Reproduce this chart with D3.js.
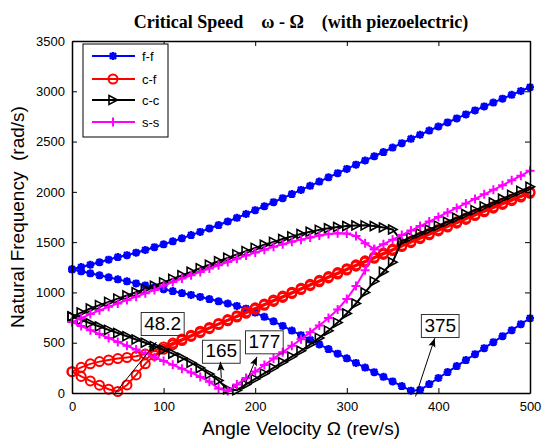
<!DOCTYPE html>
<html>
<head>
<meta charset="utf-8">
<script src="https://cdn.jsdelivr.net/npm/d3@7/dist/d3.min.js"></script>
<style>
    body { margin: 0; background: #fff; }
    text { font-family: Arial, "Liberation Sans", sans-serif; }
</style>
</head>
<body>
<div id="chart"></div>
<script>
// angle velocity grid (rev/s)
const omega = [0, 10, 20, 30, 40, 50, 60, 70, 80, 90, 100, 110, 120, 130, 140, 150, 160, 170, 180, 190,
    200, 210, 220, 230, 240, 250, 260, 270, 280, 290, 300, 310, 320, 330, 340, 350, 360, 370, 380, 390,
    400, 410, 420, 430, 440, 450, 460, 470, 480, 490, 500];

// f-f
const ffUpper = [1230, 1252, 1275, 1300, 1326, 1352, 1370, 1395, 1422, 1450, 1478, 1508, 1538, 1570, 1602, 1636, 1670, 1705, 1742, 1780,
    1818, 1857, 1897, 1937, 1978, 2019, 2060, 2102, 2144, 2186, 2228, 2270, 2312, 2354, 2396, 2440, 2484, 2527, 2568, 2609,
    2650, 2690, 2730, 2770, 2810, 2849, 2888, 2927, 2965, 3003, 3040];
const ffLower = [1230, 1210, 1190, 1170, 1150, 1130, 1110, 1090, 1070, 1051, 1032, 1013, 994, 975, 955, 934, 912, 890, 866, 838,
    800, 757, 713, 667, 621, 575, 529, 483, 437, 391, 345, 299, 253, 207, 161, 115, 69, 23, 30, 89,
    149, 208, 268, 327, 386, 446, 505, 565, 624, 684, 743];

// c-f
const cfUpper = [212, 255, 290, 312, 328, 342, 353, 366, 387, 420, 458, 497, 536, 575, 614, 652, 691, 730, 769, 808,
    847, 886, 925, 964, 1003, 1042, 1081, 1120, 1158, 1197, 1236, 1275, 1314, 1353, 1392, 1431, 1470, 1509, 1548, 1587,
    1626, 1664, 1702, 1740, 1778, 1815, 1852, 1889, 1926, 1963, 2000];
const cfLower = [212, 165, 120, 78, 38, 15, 80, 180, 290, 375, 435, 480, 522, 562, 600, 640, 680, 718, 755, 793,
    832, 872, 911, 950, 989, 1028, 1067, 1106, 1144, 1183, 1222, 1261, 1300, 1339, 1378, 1417, 1456, 1495, 1534, 1573,
    1612, 1650, 1688, 1726, 1764, 1801, 1838, 1875, 1912, 1949, 1986];

// c-c
const ccUpper = [760, 800, 840, 874, 906, 938, 970, 1002, 1034, 1066, 1100, 1135, 1170, 1205, 1240, 1275, 1310, 1344, 1378, 1411,
    1443, 1474, 1503, 1531, 1557, 1581, 1603, 1622, 1638, 1651, 1660, 1666, 1667, 1660, 1646, 1626, 1510, 1550, 1588, 1626,
    1664, 1703, 1742, 1780, 1818, 1856, 1894, 1932, 1970, 2010, 2050];
const ccLower = [760, 727, 694, 661, 628, 596, 564, 532, 500, 466, 430, 392, 350, 302, 248, 188, 125, 38, 28, 85,
    140, 195, 250, 306, 362, 420, 482, 548, 620, 700, 790, 890, 1000, 1110, 1205, 1300, 1510];

// s-s
const ssUpper = [705, 745, 785, 822, 857, 891, 925, 958, 991, 1024, 1070, 1104, 1138, 1171, 1204, 1237, 1270, 1302, 1334, 1366,
    1396, 1425, 1453, 1479, 1503, 1525, 1546, 1565, 1580, 1588, 1585, 1560, 1490, 1430, 1480, 1525, 1570, 1615, 1660, 1705,
    1750, 1795, 1840, 1885, 1930, 1975, 2020, 2065, 2115, 2160, 2210];
const ssLower = [705, 665, 625, 586, 547, 508, 470, 432, 394, 356, 318, 280, 242, 204, 160, 112, 45, 20, 85, 150,
    214, 278, 342, 406, 470, 535, 603, 672, 745, 830, 935, 1065, 1220, 1430];

const legendLabels = ['f-f', 'c-f', 'c-c', 's-s'];
const xTicks = [0, 100, 200, 300, 400, 500];
const yTicks = [0, 500, 1000, 1500, 2000, 2500, 3000, 3500];

// critical speed call-outs: label, arrow tail, arrow head, box centre (data units)
const noteLabels = ['48.2', '165', '177', '375'];
const noteTail = [[46, -15], [163, 150], [187, 45], [375, -35]];
const noteHead = [[92, 505], [162, 310], [202, 360], [396, 545]];
const noteBox = [[99, 696], [163, 420], [210, 514], [402, 676]];

let width = 542,
    height = 441,
    margin = { left: 72, right: 12, top: 41, bottom: 48 },
    innerW = width - margin.left - margin.right,
    innerH = height - margin.top - margin.bottom;

let svg = d3.select('#chart')
    .append('svg')
        .attr('width', width)
        .attr('height', height);

svg.append('defs')
    .append('marker')
        .attr('id', 'arrow')
        .attr('viewBox', '0 -5 10 10')
        .attr('refX', 10)
        .attr('refY', 0)
        .attr('markerUnits', 'userSpaceOnUse')
        .attr('markerWidth', 11)
        .attr('markerHeight', 9)
        .attr('orient', 'auto')
    .append('path')
        .attr('d', 'M0,-4L10,0L0,4L2,0Z')
        .attr('fill', '#000');

let x = d3.scaleLinear().domain([0, 500]).range([0, innerW]);
let y = d3.scaleLinear().domain([0, 3500]).range([innerH, 0]);

let rootG = svg.append('g')
    .attr('transform', 'translate(' + margin.left + ',' + margin.top + ')');

// marker shapes
let markerPath = {
    star: 'M0,-4L0,4M-4,0L4,0M-3,-3L3,3M-3,3L3,-3',
    circle: d3.symbol().type(d3.symbolCircle).size(Math.PI * 4.5 * 4.5)(),
    tri: 'M-4,-4.5L4.5,0L-4,4.5Z',
    plus: 'M0,-4.5L0,4.5M-4.5,0L4.5,0'
};

let series = [
    { color: '#0000ff', marker: 'star', branches: [ffUpper, ffLower] },
    { color: '#ff0000', marker: 'circle', branches: [cfUpper, cfLower] },
    { color: '#000000', marker: 'tri', branches: [ccUpper, ccLower] },
    { color: '#ff00ff', marker: 'plus', branches: [ssUpper, ssLower] }
];

let line = d3.line()
    .x(d => x(d[0]))
    .y(d => y(d[1]));

let plotG = rootG.append('g').attr('class', 'plot');

series.forEach(s => {
    let g = plotG.append('g');
    s.branches.forEach(vals => {
        let pts = vals.map((v, i) => [omega[i], v]);
        g.append('path')
            .attr('d', line(pts))
            .attr('fill', 'none')
            .attr('stroke', s.color)
            .attr('stroke-width', 2);
        g.selectAll(null)
            .data(pts)
            .enter()
            .append('path')
                .attr('transform', d => 'translate(' + x(d[0]) + ',' + y(d[1]) + ')')
                .attr('d', markerPath[s.marker])
                .attr('fill', 'none')
                .attr('stroke', s.color)
                .attr('stroke-width', s.marker === 'tri' ? 1.6 : (s.marker === 'star' ? 2.4 : 2));
    });
});

// axes box with inward ticks on all sides
let axisG = rootG.append('g').attr('class', 'axes');
let fmt = d3.format('d');

axisG.append('g')
    .attr('transform', 'translate(0,' + innerH + ')')
    .call(d3.axisBottom(x).tickValues(xTicks).tickFormat(fmt).tickSizeInner(-5).tickSizeOuter(0).tickPadding(9));
axisG.append('g')
    .call(d3.axisTop(x).tickValues(xTicks).tickSizeInner(-5).tickSizeOuter(0).tickFormat(''));
axisG.append('g')
    .call(d3.axisLeft(y).tickValues(yTicks).tickFormat(fmt).tickSizeInner(-5).tickSizeOuter(0).tickPadding(7));
axisG.append('g')
    .attr('transform', 'translate(' + innerW + ',0)')
    .call(d3.axisRight(y).tickValues(yTicks).tickSizeInner(-5).tickSizeOuter(0).tickFormat(''));

axisG.selectAll('.domain')
    .attr('stroke', '#000')
    .attr('stroke-width', 1.5);
axisG.selectAll('.tick line')
    .attr('stroke', '#000');
axisG.selectAll('.tick text')
    .attr('fill', '#000')
    .style('font-size', '13px');

// call-outs
let noteG = rootG.append('g').attr('class', 'notes');
noteLabels.forEach((t, i) => {
    noteG.append('line')
        .attr('x1', x(noteTail[i][0]))
        .attr('y1', y(noteTail[i][1]))
        .attr('x2', x(noteHead[i][0]))
        .attr('y2', y(noteHead[i][1]))
        .attr('stroke', '#000')
        .attr('stroke-width', 1)
        .attr('marker-end', 'url(#arrow)');
    let txt = noteG.append('text')
        .attr('x', x(noteBox[i][0]))
        .attr('y', y(noteBox[i][1]))
        .attr('text-anchor', 'middle')
        .attr('dominant-baseline', 'central')
        .style('font-size', '19px')
        .text(t);
    let bb = txt.node().getBBox();
    noteG.insert('rect', 'text')
        .attr('x', bb.x - 3)
        .attr('y', bb.y)
        .attr('width', bb.width + 6)
        .attr('height', bb.height + 2)
        .attr('fill', 'none')
        .attr('stroke', '#333')
        .attr('stroke-width', 1);
});

// legend
let legendG = rootG.append('g')
    .attr('transform', 'translate(11,3)');
legendG.append('rect')
    .attr('width', 85)
    .attr('height', 93)
    .attr('fill', '#fff')
    .attr('stroke', '#000')
    .attr('stroke-width', 1);
let legendY = [12, 35, 56, 78];
legendLabels.forEach((lab, i) => {
    let s = series[i];
    let row = legendG.append('g')
        .attr('transform', 'translate(0,' + legendY[i] + ')');
    row.append('line')
        .attr('x1', 9).attr('x2', 52)
        .attr('stroke', s.color)
        .attr('stroke-width', 2);
    row.append('path')
        .attr('transform', 'translate(30,0)')
        .attr('d', markerPath[s.marker])
        .attr('fill', 'none')
        .attr('stroke', s.color)
        .attr('stroke-width', s.marker === 'tri' ? 1.6 : (s.marker === 'star' ? 2.4 : 2));
    row.append('text')
        .attr('x', 59)
        .attr('dy', '0.35em')
        .style('font-size', '13px')
        .text(lab);
});

// titles
svg.append('text')
    .attr('x', margin.left + innerW / 2)
    .attr('y', 28)
    .attr('text-anchor', 'middle')
    .attr('xml:space', 'preserve')
    .style('white-space', 'pre')
    .style('font-family', '"Liberation Serif", "Times New Roman", serif')
    .style('font-weight', 'bold')
    .style('font-size', '18px')
    .text('Critical Speed    \u03c9 - \u03a9    (with piezoelectric)');

svg.append('text')
    .attr('x', margin.left + innerW / 2)
    .attr('y', 435)
    .attr('text-anchor', 'middle')
    .style('font-size', '19px')
    .text('Angle Velocity \u03a9 (rev/s)');

svg.append('text')
    .attr('transform', 'translate(24,' + (margin.top + innerH / 2) + ') rotate(-90)')
    .attr('text-anchor', 'middle')
    .attr('xml:space', 'preserve')
    .style('white-space', 'pre')
    .style('font-size', '19px')
    .text('Natural Frequency  (rad/s)');
</script>
</body>
</html>
